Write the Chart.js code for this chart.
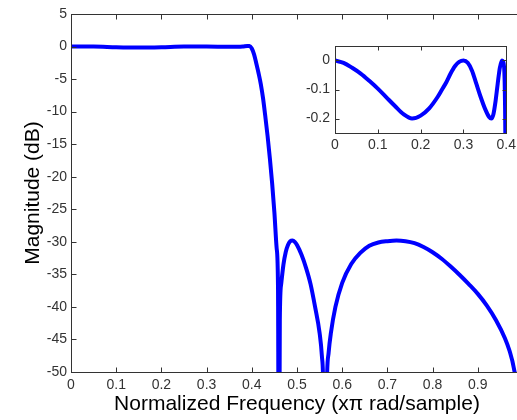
<!DOCTYPE html>
<html>
<head>
<meta charset="utf-8">
<script src="https://cdn.jsdelivr.net/npm/chart.js@4/dist/chart.umd.min.js"></script>
<style>
  html, body { margin: 0; padding: 0; background: #fff; overflow: hidden; width: 517px; height: 420px; }
  #main { position: absolute; left: 0; top: 0; }
  #inset { position: absolute; left: 290px; top: 30px; }
</style>
</head>
<body>
<canvas id="main" width="540" height="420"></canvas>
<canvas id="inset" width="230" height="125"></canvas>
<script>
// ---- Data ----
const freq = [0, 0.05, 0.1, 0.15, 0.2, 0.25, 0.3, 0.35, 0.38, 0.39, 0.395, 0.4, 0.405, 0.41, 0.415, 0.42, 0.425, 0.43, 0.435, 0.44, 0.445, 0.45, 0.455, 0.458, 0.46, 0.462, 0.465, 0.47, 0.475, 0.48, 0.485, 0.49, 0.495, 0.5, 0.51, 0.52, 0.53, 0.54, 0.55, 0.555, 0.558, 0.562, 0.566, 0.57, 0.575, 0.585, 0.6, 0.62, 0.64, 0.66, 0.68, 0.7, 0.72, 0.74, 0.76, 0.78, 0.8, 0.82, 0.84, 0.86, 0.88, 0.9, 0.92, 0.94, 0.96, 0.97, 0.98, 0.99, 1.0];
const magDb = [0, 0, -0.1, -0.15, -0.1, 0, 0, -0.05, 0, 0.1, 0.1, -0.3, -1.2, -2.6, -4.1, -5.8, -8, -10.8, -13.8, -17.2, -21, -25.5, -31, -37, -80, -42, -36.5, -33.5, -31.6, -30.5, -29.9, -29.8, -30, -30.5, -32, -34, -36.5, -40, -44, -47.5, -52, -80, -52, -47, -44, -40, -36.3, -33.4, -31.7, -30.6, -30.1, -29.9, -29.8, -29.9, -30.2, -30.8, -31.6, -32.6, -33.8, -35.1, -36.5, -38, -39.8, -42, -44.8, -46.7, -49.5, -55, -80];

const insetFreq = [0, 0.02, 0.04, 0.06, 0.08, 0.1, 0.12, 0.14, 0.16, 0.18, 0.2, 0.22, 0.24, 0.25, 0.26, 0.27, 0.28, 0.29, 0.3, 0.31, 0.32, 0.33, 0.34, 0.35, 0.36, 0.365, 0.37, 0.375, 0.38, 0.385, 0.39, 0.393, 0.396, 0.398, 0.4];
const insetMagDb = [0, -0.008, -0.025, -0.045, -0.07, -0.097, -0.127, -0.157, -0.185, -0.2, -0.19, -0.165, -0.125, -0.1, -0.075, -0.045, -0.02, -0.005, 0, -0.008, -0.035, -0.08, -0.125, -0.165, -0.195, -0.2, -0.185, -0.14, -0.08, -0.025, 0, -0.005, -0.06, -0.3, -1];

const mainXTicks = [0, 0.1, 0.2, 0.3, 0.4, 0.5, 0.6, 0.7, 0.8, 0.9, 1.0];
const mainYTicks = [5, 0, -5, -10, -15, -20, -25, -30, -35, -40, -45, -50];
const insetXTicks = [0, 0.1, 0.2, 0.3, 0.4];
const insetYTicks = [0, -0.1, -0.2];

const xTitle = 'Normalized Frequency (x\u03C0 rad/sample)';
const yTitle = 'Magnitude (dB)';

// ---- Helpers ----
const FONT = "'Liberation Sans', Arial, sans-serif";
const AXIS_COLOR = '#333';
const LINE_COLOR = '#0000ff';

function pts(xs, ys) { return xs.map((x, i) => ({ x: x, y: ys[i] })); }
function fmt(v) { return String(Math.round(v * 10) / 10); }

function boxTicksPlugin(len) {
  return {
    id: 'boxTicks',
    beforeDraw(chart) {
      const { ctx, chartArea: a } = chart;
      ctx.save();
      ctx.fillStyle = '#fff';
      ctx.fillRect(a.left, a.top, a.right - a.left, a.bottom - a.top);
      ctx.restore();
    },
    afterDraw(chart) {
      const { ctx, chartArea: a, scales } = chart;
      const L = Math.round(a.left) + 0.5, R = Math.round(a.right) + 0.5;
      const T = Math.round(a.top) + 0.5, B = Math.round(a.bottom) + 0.5;
      ctx.save();
      ctx.strokeStyle = AXIS_COLOR;
      ctx.lineWidth = 1;
      ctx.strokeRect(L, T, R - L, B - T);
      ctx.beginPath();
      scales.x.ticks.forEach(t => {
        const px = Math.round(scales.x.getPixelForValue(t.value)) + 0.5;
        ctx.moveTo(px, B); ctx.lineTo(px, B - len);
        ctx.moveTo(px, T); ctx.lineTo(px, T + len);
      });
      scales.y.ticks.forEach(t => {
        const py = Math.round(scales.y.getPixelForValue(t.value)) + 0.5;
        ctx.moveTo(L, py); ctx.lineTo(L + len, py);
        ctx.moveTo(R, py); ctx.lineTo(R - len, py);
      });
      ctx.stroke();
      ctx.restore();
    }
  };
}

function fixedTicks(list) {
  return function (scale) { scale.ticks = list.map(v => ({ value: v })); };
}

// ---- Main chart ----
new Chart(document.getElementById('main'), {
  type: 'line',
  data: {
    datasets: [{
      data: pts(freq, magDb),
      borderColor: LINE_COLOR,
      borderWidth: 4,
      pointRadius: 0,
      cubicInterpolationMode: 'monotone',
      fill: false
    }]
  },
  options: {
    responsive: false,
    animation: false,
    devicePixelRatio: 1,
    layout: { padding: { top: 14, right: 17, left: 0, bottom: 0 } },
    plugins: { legend: { display: false }, tooltip: { enabled: false } },
    scales: {
      x: {
        type: 'linear', min: 0, max: 1,
        afterBuildTicks: fixedTicks(mainXTicks),
        afterFit(s) { s.height = 48; },
        grid: { display: false, drawTicks: false },
        border: { display: false },
        ticks: {
          autoSkip: false, maxRotation: 0, padding: 5,
          color: AXIS_COLOR, font: { family: FONT, size: 14 },
          callback: v => (v >= 0.999 ? '' : fmt(v))
        },
        title: {
          display: true, text: xTitle, color: '#000',
          font: { family: FONT, size: 21 },
          padding: { top: 0, bottom: 3 }
        }
      },
      y: {
        type: 'linear', min: -50, max: 5,
        afterBuildTicks: fixedTicks(mainYTicks),
        afterFit(s) { s.width = 71; },
        grid: { display: false, drawTicks: false },
        border: { display: false },
        ticks: {
          autoSkip: false, padding: 4,
          color: AXIS_COLOR, font: { family: FONT, size: 14 },
          callback: v => fmt(v)
        },
        title: {
          display: true, text: yTitle, color: '#000',
          font: { family: FONT, size: 21 },
          padding: { top: 21, bottom: 0 }
        }
      }
    }
  },
  plugins: [boxTicksPlugin(5)]
});

// ---- Inset chart ----
new Chart(document.getElementById('inset'), {
  type: 'line',
  data: {
    datasets: [{
      data: pts(insetFreq, insetMagDb),
      borderColor: LINE_COLOR,
      borderWidth: 4,
      pointRadius: 0,
      cubicInterpolationMode: 'monotone',
      fill: false
    }]
  },
  options: {
    responsive: false,
    animation: false,
    devicePixelRatio: 1,
    layout: { padding: { top: 16, right: 11, left: 0, bottom: 0 } },
    plugins: { legend: { display: false }, tooltip: { enabled: false } },
    scales: {
      x: {
        type: 'linear', min: 0, max: 0.4,
        afterBuildTicks: fixedTicks(insetXTicks),
        afterFit(s) { s.height = 22; },
        grid: { display: false, drawTicks: false },
        border: { display: false },
        ticks: {
          autoSkip: false, maxRotation: 0, padding: 4,
          color: AXIS_COLOR, font: { family: FONT, size: 14 },
          callback: v => fmt(v)
        }
      },
      y: {
        type: 'linear', min: -0.25, max: 0.05,
        afterBuildTicks: fixedTicks(insetYTicks),
        afterFit(s) { s.width = 45; },
        grid: { display: false, drawTicks: false },
        border: { display: false },
        ticks: {
          autoSkip: false, padding: 5,
          color: AXIS_COLOR, font: { family: FONT, size: 14 },
          callback: v => fmt(v)
        }
      }
    }
  },
  plugins: [boxTicksPlugin(4)]
});
</script>
</body>
</html>
